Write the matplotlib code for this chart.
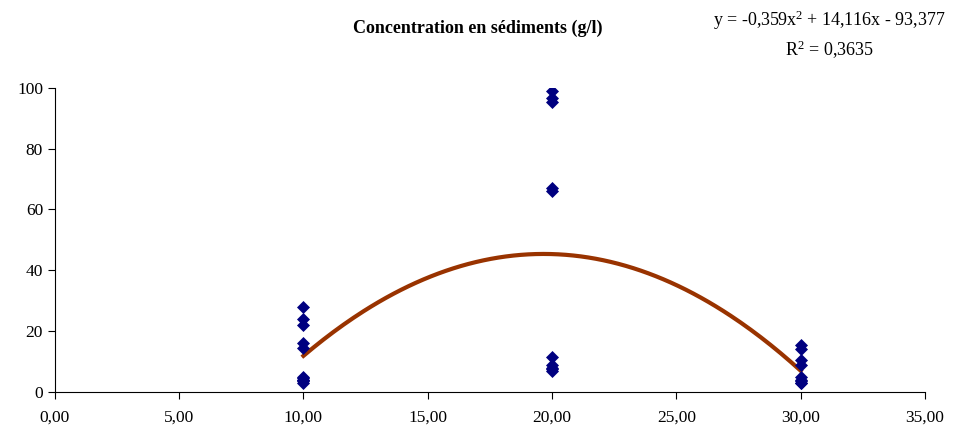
import matplotlib.pyplot as plt
import matplotlib.ticker as mticker
import numpy as np

plt.rcParams.update({
    'font.family': ['Liberation Serif', 'DejaVu Serif'],
    'font.size': 12,
    'mathtext.fontset': 'custom',
    'mathtext.rm': 'Liberation Serif',
    'mathtext.it': 'Liberation Serif:italic',
    'mathtext.bf': 'Liberation Serif:bold',
})

# Données
x10 = [28, 24, 22, 16, 14.5, 5, 4.5, 4, 4, 3.5, 3]
x20 = [99, 96.5, 95.5, 67, 66, 11.5, 9, 8, 7.5, 7]
x30 = [15.5, 14, 10.5, 9, 5, 4, 3.5, 3, 3]
doses = [10, 20, 30]
coefs = [-0.359, 14.116, -93.377]
r2 = 0.3635

xs = np.concatenate([np.full(len(x10), 10.0), np.full(len(x20), 20.0), np.full(len(x30), 30.0)])
ys = np.concatenate([x10, x20, x30])

fig = plt.figure(figsize=(9.62, 4.37), dpi=100)
ax = fig.add_axes([0.057, 0.103, 0.9045, 0.696])

ax.scatter(xs, ys, marker='D', s=44, color='#000080', zorder=3, linewidths=0)

xf = np.linspace(min(doses), max(doses), 200)
ax.plot(xf, np.polyval(coefs, xf), color='#993300', linewidth=3, zorder=2)

ax.set_xlim(0, 35)
ax.set_ylim(0, 100)
ax.set_xticks(np.arange(0, 36, 5))
ax.set_yticks(np.arange(0, 101, 20))
ax.xaxis.set_major_formatter(mticker.FuncFormatter(lambda v, p: f'{v:.2f}'.replace('.', ',')))
ax.spines['top'].set_visible(False)
ax.spines['right'].set_visible(False)
ax.tick_params(direction='out', length=5, width=0.8, labelsize=12.5)
ax.tick_params(axis='x', pad=8)

fig.text(0.497, 0.935, 'Concentration en sédiments (g/l)', ha='center', va='center',
         fontsize=13, fontweight='bold')
fig.text(0.862, 0.953, 'y = -0,359x$^{2}$ + 14,116x - 93,377', ha='center', va='center', fontsize=13)
fig.text(0.862, 0.885, 'R$^{2}$ = ' + f'{r2:.4f}'.replace('.', ','), ha='center', va='center', fontsize=13)

fig.savefig('out.png', facecolor='white')
